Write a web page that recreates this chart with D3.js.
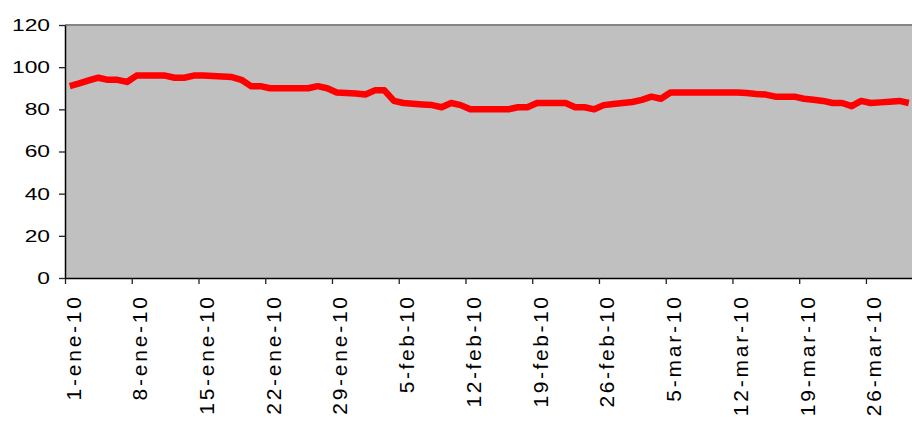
<!DOCTYPE html>
<html>
<head>
<meta charset="utf-8">
<script src="https://cdn.jsdelivr.net/npm/d3@7"></script>
<style>
body { margin: 0; background: #fff; }
svg { display: block; }
</style>
</head>
<body>
<svg width="912" height="423"></svg>
<script>
var svg = d3.select('svg');

var svgWidth = +svg.attr('width');
var svgHeight = +svg.attr('height');

// first day of the series, then one value per day
var firstDay = '2010-01-01';
var values = [
  91, 92.3, 93.7, 95, 94, 94, 93, 96, 96, 96,
  96, 95, 95, 96, 96, 95.8, 95.6, 95.3, 94, 91,
  91, 90, 90, 90, 90, 90, 91, 90, 88, 87.8,
  87.5, 87, 89, 89, 84, 83, 82.7, 82.3, 82, 81,
  83, 82, 80, 80, 80, 80, 80, 81, 81, 83,
  83, 83, 83, 81, 81, 80, 82, 82.5, 83, 83.5,
  84.5, 86, 85, 88, 88, 88, 88, 88, 88, 88,
  88, 87.7, 87.3, 87, 86, 86, 86, 85, 84.5, 84,
  83, 83, 81.5, 84, 83, 83.3, 83.6, 84, 83
];

var yTicks = [0, 20, 40, 60, 80, 100, 120];
var xTickLabels = ['1-ene-10', '8-ene-10', '15-ene-10', '22-ene-10', '29-ene-10',
  '5-feb-10', '12-feb-10', '19-feb-10', '26-feb-10',
  '5-mar-10', '12-mar-10', '19-mar-10', '26-mar-10'];
var monthNames = ['ene', 'feb', 'mar'];

var parseDay = d3.timeParse('%Y-%m-%d');
var start = parseDay(firstDay);

var data = values.map(function(v, i) {
  return { date: d3.timeDay.offset(start, i), value: v };
});

function parseLabel(s) {
  var p = s.split('-');
  return new Date(2000 + +p[2], monthNames.indexOf(p[1]), +p[0]);
}
var xTickDates = xTickLabels.map(parseLabel);

// plot box (right side runs just past the window, like the original)
var plotLeft = 65, plotTop = 25, plotBottom = 278;
var dayWidth = 9.535;
var end = d3.timeDay.offset(start, values.length);
var plotRight = plotLeft + values.length * dayWidth;

var x = d3.scaleTime()
  .domain([start, end])
  .range([plotLeft, plotRight]);

var y = d3.scaleLinear()
  .domain([0, 120])
  .range([plotBottom, plotTop]);

// gray background
svg.append('rect')
  .attr('x', plotLeft)
  .attr('y', plotTop)
  .attr('width', plotRight - plotLeft)
  .attr('height', plotBottom - plotTop)
  .style('fill', '#c0c0c0');

// top border
svg.append('line')
  .attr('x1', plotLeft).attr('x2', plotRight)
  .attr('y1', plotTop).attr('y2', plotTop)
  .style('stroke', '#858585')
  .style('stroke-width', 2);

// points sit in the middle of each day
var line = d3.line()
  .x(function(d) { return x(d3.timeHour.offset(d.date, 12)); })
  .y(function(d) { return y(d.value); });

svg.append('path')
  .datum(data)
  .attr('d', line)
  .style('fill', 'none')
  .style('stroke', '#ff0000')
  .style('stroke-width', 6.5)
  .style('stroke-linejoin', 'round');

// y axis
var yAxis = svg.append('g')
  .attr('transform', 'translate(' + plotLeft + ',0)')
  .call(d3.axisLeft(y).tickValues(yTicks).tickSize(6).tickSizeOuter(0).tickPadding(9));

yAxis.select('.domain').style('stroke', '#000').style('stroke-width', 1.5);
yAxis.selectAll('.tick line').style('stroke', '#222').style('stroke-width', 1.3);
yAxis.selectAll('text')
  .style('font-family', '"Liberation Sans", Arial, sans-serif')
  .style('font-size', '17px')
  .style('fill', '#000')
  .each(function() {
    var len = this.getComputedTextLength();
    d3.select(this).attr('textLength', len * 1.34).attr('lengthAdjust', 'spacingAndGlyphs');
  });

// x axis
var xAxis = svg.append('g')
  .attr('transform', 'translate(0,' + plotBottom + ')')
  .call(d3.axisBottom(x)
    .tickValues(xTickDates)
    .tickFormat(function(d, i) { return xTickLabels[i]; })
    .tickSize(6)
    .tickSizeOuter(0));

xAxis.select('.domain').style('stroke', '#000').style('stroke-width', 1.5);
xAxis.selectAll('.tick line').style('stroke', '#222').style('stroke-width', 1.3);
xAxis.selectAll('text')
  .attr('transform', 'rotate(-90)')
  .attr('text-anchor', 'end')
  .attr('x', -19)
  .attr('y', 15)
  .attr('dy', 0)
  .style('font-family', '"Liberation Sans", Arial, sans-serif')
  .style('font-size', '21px')
  .style('fill', '#000')
  .each(function() {
    var len = this.getComputedTextLength();
    d3.select(this).attr('textLength', len * 1.23).attr('lengthAdjust', 'spacing');
  });
</script>
</body>
</html>
